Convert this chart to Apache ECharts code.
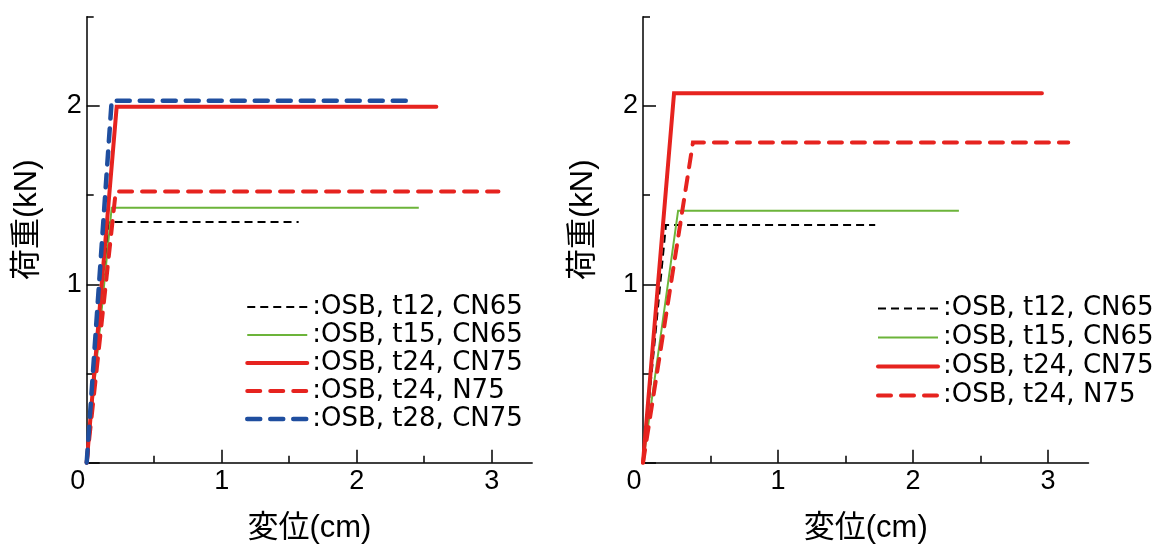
<!DOCTYPE html>
<html>
<head>
<meta charset="utf-8">
<script src="https://cdn.jsdelivr.net/npm/echarts@6/dist/echarts.min.js"></script>
<style>
html,body{margin:0;padding:0;background:#fff;}
#c{width:1158px;height:544px;}
</style>
</head>
<body>
<div id="c"></div>
<script>
// ---- data ----
const xTickLabels = [0, 1, 2, 3];
const yTickLabels = [1, 2];
const xMajorTicks = [0, 1, 2, 3];
const xMinorTicks = [0.5, 1.5, 2.5];
const yMajorTicks = [0, 1, 2];
const yMinorTicks = [0.5, 1.5, 2.5];

const names = [':OSB, t12, CN65', ':OSB, t15, CN65', ':OSB, t24, CN75', ':OSB, t24, N75', ':OSB, t28, CN75'];

// left panel (displacement cm, load kN)
const leftT12 = [[0, 0], [0.168, 1.35], [1.57, 1.35]];
const leftT15 = [[0, 0], [0.185, 1.43], [2.46, 1.43]];
const leftT24CN = [[0, 0], [0.222, 1.995], [2.59, 1.995]];
const leftT24N = [[0, 0], [0.215, 1.52], [3.05, 1.52]];
const leftT28 = [[0, 0], [0.185, 2.03], [2.39, 2.03]];

// right panel
const rightT12 = [[0, 0], [0.17, 1.333], [1.72, 1.333]];
const rightT15 = [[0, 0], [0.26, 1.413], [2.34, 1.413]];
const rightT24CN = [[0, 0], [0.23, 2.072], [2.955, 2.072]];
const rightT24N = [[0, 0], [0.37, 1.795], [3.15, 1.795]];

// ---- styles ----
const RED = '#e6231f', BLUE = '#1f4e9f', GREEN = '#6cb43a', BLACK = '#000000';
const styles = [
  {color: BLACK, width: 2, type: [8, 5], cap: 'butt'},
  {color: GREEN, width: 2, type: 'solid', cap: 'butt'},
  {color: RED, width: 4, type: 'solid', cap: 'round'},
  {color: RED, width: 4, type: [13, 10], cap: 'round'},
  {color: BLUE, width: 4.5, type: [13, 10], cap: 'round'}
];

const FONT = 'Liberation Sans, Arial, Noto Sans CJK JP, sans-serif';
const PLOT_TOP = 16.8, PLOT_H = 445.9, PLOT_W = 445.5;

function xAxes(grid) {
  return [
    {
      type: 'value', gridIndex: grid, min: 0, max: 3.3, interval: 1,
      position: 'bottom',
      axisLine: {show: true, lineStyle: {color: '#000', width: 1.5}},
      axisTick: {show: true, inside: true, length: 13, customValues: xMajorTicks, lineStyle: {color: '#000', width: 1.5}},
      axisLabel: {
        show: true, margin: 5, customValues: xTickLabels, color: '#000', fontSize: 27, fontFamily: FONT,
        formatter: v => v === 0 ? '{z|0}' : String(v),
        rich: {z: {fontSize: 27, fontFamily: FONT, color: '#000', padding: [0, 18, 0, 0]}}
      },
      splitLine: {show: false},
      name: '変位(cm)', nameLocation: 'middle', nameGap: 50,
      nameTextStyle: {color: '#000', fontSize: 31, fontFamily: FONT}
    },
    {
      type: 'value', gridIndex: grid, min: 0, max: 3.3, interval: 0.5,
      position: 'bottom',
      axisLine: {show: false},
      axisTick: {show: true, inside: true, length: 7, customValues: xMinorTicks, lineStyle: {color: '#000', width: 1.5}},
      axisLabel: {show: false},
      splitLine: {show: false}
    }
  ];
}
function yAxes(grid) {
  return [
    {
      type: 'value', gridIndex: grid, min: 0, max: 2.5, interval: 0.5,
      position: 'left',
      axisLine: {show: true, lineStyle: {color: '#000', width: 1.5}},
      axisTick: {show: true, inside: true, length: 13, customValues: yMajorTicks, lineStyle: {color: '#000', width: 1.5}},
      axisLabel: {show: true, margin: 5, customValues: yTickLabels, color: '#000', fontSize: 27, fontFamily: FONT},
      splitLine: {show: false},
      name: '荷重(kN)', nameLocation: 'middle', nameGap: 44,
      nameTextStyle: {color: '#000', fontSize: 31, fontFamily: FONT, padding: [0, 0, 0, 40]}
    },
    {
      type: 'value', gridIndex: grid, min: 0, max: 2.5, interval: 0.5,
      position: 'left',
      axisLine: {show: false},
      axisTick: {show: true, inside: true, length: 7, customValues: yMinorTicks, lineStyle: {color: '#000', width: 1.5}},
      axisLabel: {show: false},
      splitLine: {show: false}
    }
  ];
}

function mkSeries(idx, data, axisIdx) {
  const s = styles[idx];
  return {
    type: 'line', name: names[idx], data: data,
    xAxisIndex: axisIdx, yAxisIndex: axisIdx,
    symbol: 'none', showSymbol: false, animation: false, silent: true,
    lineStyle: {color: s.color, width: s.width, type: s.type, cap: s.cap, join: 'miter'},
    itemStyle: {color: s.color}
  };
}

function legendData(n) {
  return names.slice(0, n).map((nm, i) => ({
    name: nm,
    itemStyle: {opacity: 0, borderWidth: 0},
    lineStyle: {color: styles[i].color, width: styles[i].width, type: styles[i].type, cap: styles[i].cap, opacity: 1}
  }));
}

const legendCommon = {
  orient: 'vertical', padding: 0, itemGap: 0, itemWidth: 60, itemHeight: 14,
  selectedMode: false,
  textStyle: {color: '#000', fontSize: 26, fontFamily: 'DejaVu Sans, sans-serif', lineHeight: 28}
};

const option = {
  backgroundColor: '#fff',
  animation: false,
  grid: [
    {left: 86.7, top: PLOT_TOP, width: PLOT_W, height: PLOT_H, containLabel: false, outerBoundsMode: 'none'},
    {left: 643, top: PLOT_TOP, width: PLOT_W, height: PLOT_H, containLabel: false, outerBoundsMode: 'none'}
  ],
  xAxis: [...xAxes(0), ...xAxes(1)],
  yAxis: [...yAxes(0), ...yAxes(1)],
  legend: [
    Object.assign({}, legendCommon, {left: 245, top: 293, data: legendData(5)}),
    Object.assign({}, legendCommon, {left: 876, top: 294, data: legendData(4),
      textStyle: Object.assign({}, legendCommon.textStyle, {lineHeight: 29})})
  ],
  series: [
    mkSeries(0, leftT12, 0),
    mkSeries(1, leftT15, 0),
    mkSeries(2, leftT24CN, 0),
    mkSeries(3, leftT24N, 0),
    mkSeries(4, leftT28, 0),
    mkSeries(0, rightT12, 2),
    mkSeries(1, rightT15, 2),
    mkSeries(2, rightT24CN, 2),
    mkSeries(3, rightT24N, 2)
  ]
};

const chart = echarts.init(document.getElementById('c'), null, {renderer: 'canvas'});
chart.setOption(option);
</script>
</body>
</html>
